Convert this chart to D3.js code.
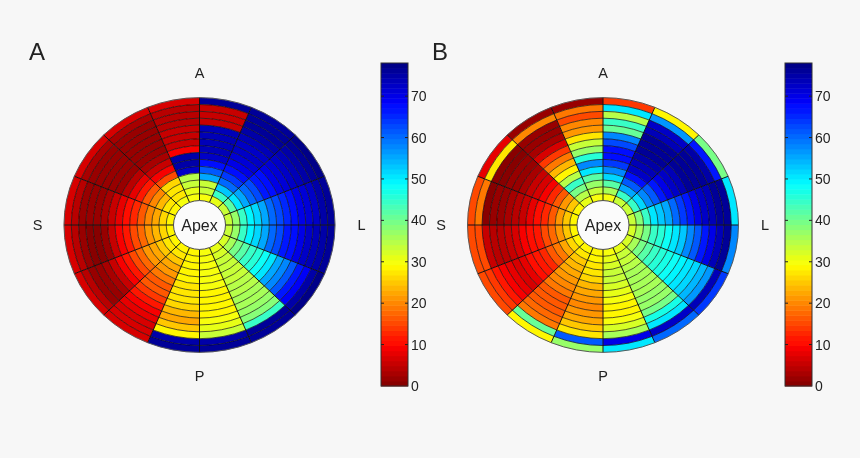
<!DOCTYPE html>
<html>
<head>
<meta charset="utf-8">
<script src="https://d3js.org/d3.v7.min.js"></script>
<style>
html, body { margin: 0; padding: 0; background: #f7f7f7; }
text { font-family: "Liberation Sans", Arial, sans-serif; fill: #222; }
</style>
</head>
<body>
<svg id="chart" width="860" height="458"></svg>
<script>
// values per sector, clockwise from north, each row goes outer ring -> inner ring
var panelA = [
    [76, 5, 5, 5, 74, 74, 74, 74, 73, 68, 62, 56, 34, 33, 30],
    [76, 76, 76, 75, 74, 73, 72, 71, 70, 68, 64, 60, 53, 44, 31],
    [77, 76, 75, 74, 73, 71, 70, 68, 66, 63, 60, 56, 50, 42, 33],
    [76, 75, 73, 71, 70, 68, 65, 63, 60, 56, 52, 49, 45, 37, 33],
    [76, 75, 74, 72, 70, 68, 66, 63, 60, 56, 52, 49, 44, 37, 33],
    [77, 75, 69, 66, 62, 58, 55, 51, 48, 46, 44, 42, 39, 36, 32],
    [76, 76, 44, 38, 37, 36, 36, 35, 35, 34, 34, 33, 33, 32, 31],
    [76, 75, 33, 31, 30, 29, 29, 29, 29, 30, 30, 30, 30, 30, 30],
    [76, 75, 29, 25, 23, 24, 26, 27, 28, 28, 29, 29, 29, 29, 29],
    [7, 7, 7, 8, 9, 11, 14, 16, 17, 19, 21, 23, 25, 27, 29],
    [7, 4, 2, 2, 3, 5, 9, 11, 15, 18, 21, 23, 25, 27, 29],
    [7, 4, 2, 1, 1, 2, 5, 9, 12, 15, 18, 21, 24, 26, 29],
    [7, 4, 2, 2, 2, 3, 5, 8, 10, 13, 17, 20, 23, 26, 29],
    [7, 3, 2, 2, 2, 2, 2, 4, 8, 11, 16, 20, 24, 27, 29],
    [7, 3, 2, 2, 2, 2, 2, 3, 5, 9, 15, 26, 27, 28, 30],
    [7, 4, 4, 4, 5, 5, 6, 9, 75, 75, 73, 35, 33, 31, 30]
];
var panelB = [
    [14, 50, 35, 44, 41, 58, 63, 68, 68, 64, 58, 52, 42, 36, 30],
    [29, 57, 72, 74, 76, 76, 76, 75, 74, 72, 68, 62, 55, 44, 33],
    [40, 66, 75, 76, 76, 76, 74, 72, 70, 66, 62, 58, 52, 44, 34],
    [51, 76, 76, 74, 72, 70, 67, 64, 60, 56, 53, 50, 45, 38, 33],
    [58, 76, 74, 70, 66, 62, 58, 53, 50, 48, 46, 44, 40, 36, 32],
    [64, 74, 57, 54, 52, 50, 49, 48, 47, 46, 44, 42, 39, 36, 32],
    [60, 72, 50, 47, 40, 37, 37, 36, 36, 36, 36, 35, 34, 33, 31],
    [50, 70, 36, 32, 30, 29, 29, 30, 31, 32, 33, 33, 32, 31, 30],
    [37, 62, 27, 25, 23, 21, 20, 21, 22, 24, 26, 27, 28, 29, 29],
    [29, 41, 19, 18, 16, 16, 17, 19, 20, 21, 22, 24, 25, 27, 29],
    [15, 14, 11, 9, 8, 7, 8, 10, 11, 13, 16, 19, 23, 26, 29],
    [15, 15, 6, 4, 4, 5, 7, 9, 10, 12, 15, 18, 21, 25, 29],
    [15, 19, 1, 2, 2, 3, 4, 6, 8, 10, 13, 17, 21, 25, 29],
    [8, 27, 1, 1, 2, 2, 3, 5, 7, 9, 13, 17, 21, 25, 29],
    [2, 20, 2, 2, 3, 7, 14, 19, 24, 29, 35, 44, 40, 35, 31],
    [2, 19, 15, 20, 21, 28, 33, 37, 46, 58, 50, 42, 37, 33, 30]
];
var barTicks = [0, 10, 20, 30, 40, 50, 60, 70];
var maxValue = 78;
var levels = d3.range(64);

var svg = d3.select('#chart');

// the reference is a soft, slightly resampled image
svg.append('defs').append('filter')
    .attr('id', 'soft')
    .append('feGaussianBlur')
    .attr('stdDeviation', 0.4);

var root = svg.append('g').attr('filter', 'url(#soft)');

// reversed jet, 64 flat steps like the matlab colormap
var jet = d3.scaleLinear()
    .domain([0, 0.125, 0.375, 0.625, 0.875, 1].map(function (d) { return d * maxValue; }))
    .range(['#800000', '#ff0000', '#ffff00', '#00ffff', '#0000ff', '#000080']);

function colour(v) {
    var step = Math.min(63, Math.floor(v / maxValue * 64));
    return jet((step + 0.5) / 64 * maxValue);
}

var ringScale = d3.scaleLinear().domain([0, 15]).range([135.5, 26]);
var angleScale = d3.scaleLinear().domain([0, 16]).range([0, 2 * Math.PI]);
var arc = d3.arc();

function drawPolar(cx, cy, values) {
    var g = root.append('g')
        .attr('transform', 'translate(' + cx + ',' + cy + ') scale(1,0.94)');

    values.forEach(function (sector, s) {
        g.selectAll('.cell' + s)
            .data(sector)
            .enter()
            .append('path')
            .attr('d', function (d, r) {
                return arc({
                    innerRadius: ringScale(r + 1),
                    outerRadius: ringScale(r),
                    startAngle: angleScale(s),
                    endAngle: angleScale(s + 1)
                });
            })
            .attr('fill', function (d) { return colour(d); })
            .attr('stroke', function (d) { return colour(d); })
            .attr('stroke-width', 0.3);
    });

    // ring lines as whole circles so they do not double up between cells
    g.selectAll('.ring')
        .data(d3.range(1, 15))
        .enter()
        .append('circle')
        .attr('class', 'ring')
        .attr('r', function (d) { return ringScale(d); })
        .attr('fill', 'none')
        .attr('stroke', '#111')
        .attr('stroke-opacity', 0.72)
        .attr('stroke-width', 1);

    // spokes sit on top of the cells
    g.selectAll('.spoke')
        .data(d3.range(16))
        .enter()
        .append('line')
        .attr('class', 'spoke')
        .attr('x1', function (d) { return ringScale(15) * Math.sin(angleScale(d)); })
        .attr('y1', function (d) { return -ringScale(15) * Math.cos(angleScale(d)); })
        .attr('x2', function (d) { return ringScale(0) * Math.sin(angleScale(d)); })
        .attr('y2', function (d) { return -ringScale(0) * Math.cos(angleScale(d)); })
        .attr('stroke', '#111')
        .attr('stroke-width', 1);

    g.append('circle')
        .attr('r', ringScale(0))
        .attr('fill', 'none')
        .attr('stroke', '#555')
        .attr('stroke-width', 1);

    g.append('circle')
        .attr('r', ringScale(15))
        .attr('fill', '#fbfbfb')
        .attr('stroke', '#444')
        .attr('stroke-width', 1);

    root.append('text')
        .attr('x', cx)
        .attr('y', cy + 5.5)
        .attr('text-anchor', 'middle')
        .attr('font-size', 16)
        .text('Apex');

    var labels = [
        { t: 'A', x: cx, y: cy - 147 },
        { t: 'P', x: cx, y: cy + 156 },
        { t: 'S', x: cx - 162, y: cy + 5 },
        { t: 'L', x: cx + 162, y: cy + 5 }
    ];
    labels.forEach(function (d) {
        root.append('text')
            .attr('x', d.x)
            .attr('y', d.y)
            .attr('text-anchor', 'middle')
            .attr('font-size', 14.5)
            .text(d.t);
    });
}

function drawBar(x0) {
    var y = d3.scaleLinear().domain([0, maxValue]).range([386, 63]);
    var w = 27;
    var g = root.append('g');

    g.selectAll('rect.level')
        .data(levels)
        .enter()
        .append('rect')
        .attr('class', 'level')
        .attr('x', x0)
        .attr('width', w)
        .attr('y', function (d) { return y((d + 1) / 64 * maxValue); })
        .attr('height', y(0) - y(maxValue / 64) + 0.5)
        .attr('fill', function (d) { return jet((d + 0.5) / 64 * maxValue); });

    g.append('rect')
        .attr('x', x0)
        .attr('y', y(maxValue))
        .attr('width', w)
        .attr('height', y(0) - y(maxValue))
        .attr('fill', 'none')
        .attr('stroke', '#333')
        .attr('stroke-width', 1);

    barTicks.forEach(function (t) {
        if (t > 0) {
            g.append('line').attr('x1', x0).attr('x2', x0 + 3)
                .attr('y1', y(t)).attr('y2', y(t)).attr('stroke', '#222');
            g.append('line').attr('x1', x0 + w - 3).attr('x2', x0 + w)
                .attr('y1', y(t)).attr('y2', y(t)).attr('stroke', '#222');
        }
        g.append('text')
            .attr('x', x0 + 30)
            .attr('y', y(t) + 5)
            .attr('font-size', 14)
            .text(t);
    });
}

drawPolar(199.5, 225, panelA);
drawPolar(603, 225, panelB);
drawBar(381);
drawBar(785);

root.append('text').attr('x', 29).attr('y', 60).attr('font-size', 24).text('A');
root.append('text').attr('x', 432).attr('y', 60).attr('font-size', 24).text('B');
</script>
</body>
</html>
